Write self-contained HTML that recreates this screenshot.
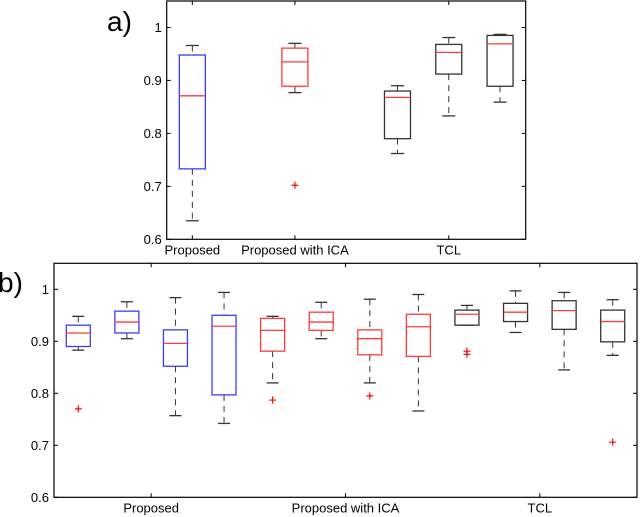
<!DOCTYPE html>
<html><head><meta charset="utf-8"><style>
body{margin:0;background:#fff;width:640px;height:517px;overflow:hidden}
svg{display:block;font-family:"Liberation Sans",sans-serif}
</style></head><body>
<svg id="svg" width="640" height="517">
<text x="107" y="31" font-size="28" fill="#000">a)</text>
<text x="-2" y="292" font-size="28" fill="#000">b)</text>
</svg>
<script>
// Panel a data
const aPositions=[1,3,5,6,7];
const aLo=[0.635,0.877,0.762,0.833,0.859];
const aQ1=[0.733,0.889,0.790,0.912,0.889];
const aMed=[0.871,0.935,0.868,0.953,0.969];
const aQ3=[0.948,0.961,0.880,0.968,0.985];
const aHi=[0.966,0.970,0.890,0.981,0.987];
const aOut=[[],[0.702],[],[],[]];
const aColors=['#3a3aff','#ff3a3a','#333','#333','#333'];
const aTickPos=[1,3,6];
const aTickLabels=['Proposed','Proposed with ICA','TCL'];
// Panel b data
const bLo=[0.883,0.905,0.757,0.742,0.820,0.905,0.820,0.766,0.931,0.917,0.845,0.873];
const bQ1=[0.890,0.916,0.852,0.797,0.881,0.921,0.874,0.871,0.931,0.938,0.923,0.899];
const bMed=[0.916,0.937,0.896,0.929,0.921,0.937,0.905,0.928,0.952,0.956,0.959,0.938];
const bQ3=[0.931,0.958,0.922,0.950,0.944,0.956,0.922,0.952,0.960,0.973,0.978,0.960];
const bHi=[0.948,0.976,0.984,0.994,0.948,0.975,0.981,0.990,0.969,0.997,0.994,0.980];
const bOut=[[0.770],[],[],[],[0.787],[],[0.795],[],[0.881,0.875],[],[],[0.706]];
const bColors=['#3a3aff','#3a3aff','#3a3aff','#3a3aff','#ff3a3a','#ff3a3a','#ff3a3a','#ff3a3a','#333','#333','#333','#333'];
const bTickPos=[2.5,6.5,10.5];
const bTickLabels=['Proposed','Proposed with ICA','TCL'];
const yTicks=[0.6,0.7,0.8,0.9,1.0];
const yTickLabels=['0.6','0.7','0.8','0.9','1'];

const NS='http://www.w3.org/2000/svg';
const svg=document.getElementById('svg');
function mk(tag,attrs,parent){const e=document.createElementNS(NS,tag);for(const k in attrs)e.setAttribute(k,attrs[k]);(parent||svg).appendChild(e);return e;}

function panel(p){
  const g=mk('g',{});
  
  
  const X=v=>p.x0+(v-p.xmin)/(p.xmax-p.xmin)*(p.x1-p.x0);
  const Y=v=>p.y1-(v-0.6)/(1.05-0.6)*(p.y1-p.y0);
  const frame=mk('rect',{x:p.x0,y:p.y0,width:p.x1-p.x0,height:p.y1-p.y0,fill:'none',stroke:'#000','stroke-width':1.2},g);
  
  
  yTicks.forEach((t,i)=>{
    const y=Y(t);
    mk('line',{x1:p.x0,x2:p.x0+4,y1:y,y2:y,stroke:'#000'},g);
    mk('line',{x1:p.x1,x2:p.x1-4,y1:y,y2:y,stroke:'#000'},g);
    const tx=mk('text',{x:p.x0-5,y:y+4.5,'font-size':13,'text-anchor':'end',fill:'#000'},g);
    tx.textContent=yTickLabels[i];
    
    
  });
  p.tickPos.forEach((t,i)=>{
    const x=X(t);
    mk('line',{x1:x,x2:x,y1:p.y1,y2:p.y1-4,stroke:'#000'},g);
    mk('line',{x1:x,x2:x,y1:p.y0,y2:p.y0+4,stroke:'#000'},g);
    const tx=mk('text',{x:x,y:p.y1+15,'font-size':13,'text-anchor':'middle',fill:'#000'},g);
    tx.textContent=p.tickLabels[i];
    
    
  });
  const hw=p.hw;
  p.lo.forEach((lo,i)=>{
    const cx=X(p.pos[i]);const c=p.colors[i];
    const bg=mk('g',{},g);
    
    
    mk('line',{x1:cx,x2:cx,y1:Y(p.hi[i]),y2:Y(p.q3[i]),stroke:'#333','stroke-dasharray':'6,5'},bg);
    mk('line',{x1:cx,x2:cx,y1:Y(p.q1[i]),y2:Y(lo),stroke:'#333','stroke-dasharray':'6,5'},bg);
    mk('line',{x1:cx-hw/2,x2:cx+hw/2,y1:Y(p.hi[i]),y2:Y(p.hi[i]),stroke:'#333','stroke-width':1.3},bg);
    mk('line',{x1:cx-hw/2,x2:cx+hw/2,y1:Y(lo),y2:Y(lo),stroke:'#333','stroke-width':1.3},bg);
    mk('rect',{x:cx-hw,y:Y(p.q3[i]),width:2*hw,height:Y(p.q1[i])-Y(p.q3[i]),fill:'none',stroke:c,'stroke-width':1.3},bg);
    mk('line',{x1:cx-hw,x2:cx+hw,y1:Y(p.med[i]),y2:Y(p.med[i]),stroke:'#ff3a3a','stroke-width':1.3},bg);
    p.out[i].forEach(o=>{
      const y=Y(o);
      mk('path',{d:`M${cx-3.5},${y}H${cx+3.5}M${cx},${y-3.5}V${y+3.5}`,stroke:'#f00','stroke-width':1.2},bg);
    });
  });
}
panel({name:'chart-a',x0:166.7,x1:525.7,y0:1,y1:239.3,xmin:0.5,xmax:7.5,hw:13,pos:aPositions,lo:aLo,q1:aQ1,med:aMed,q3:aQ3,hi:aHi,out:aOut,colors:aColors,tickPos:aTickPos,tickLabels:aTickLabels});
panel({name:'chart-b',x0:54,x1:637,y0:263.3,y1:497.3,xmin:0.5,xmax:12.5,hw:12,pos:bLo.map((_,i)=>i+1),lo:bLo,q1:bQ1,med:bMed,q3:bQ3,hi:bHi,out:bOut,colors:bColors,tickPos:bTickPos,tickLabels:bTickLabels});
</script>
</body></html>
